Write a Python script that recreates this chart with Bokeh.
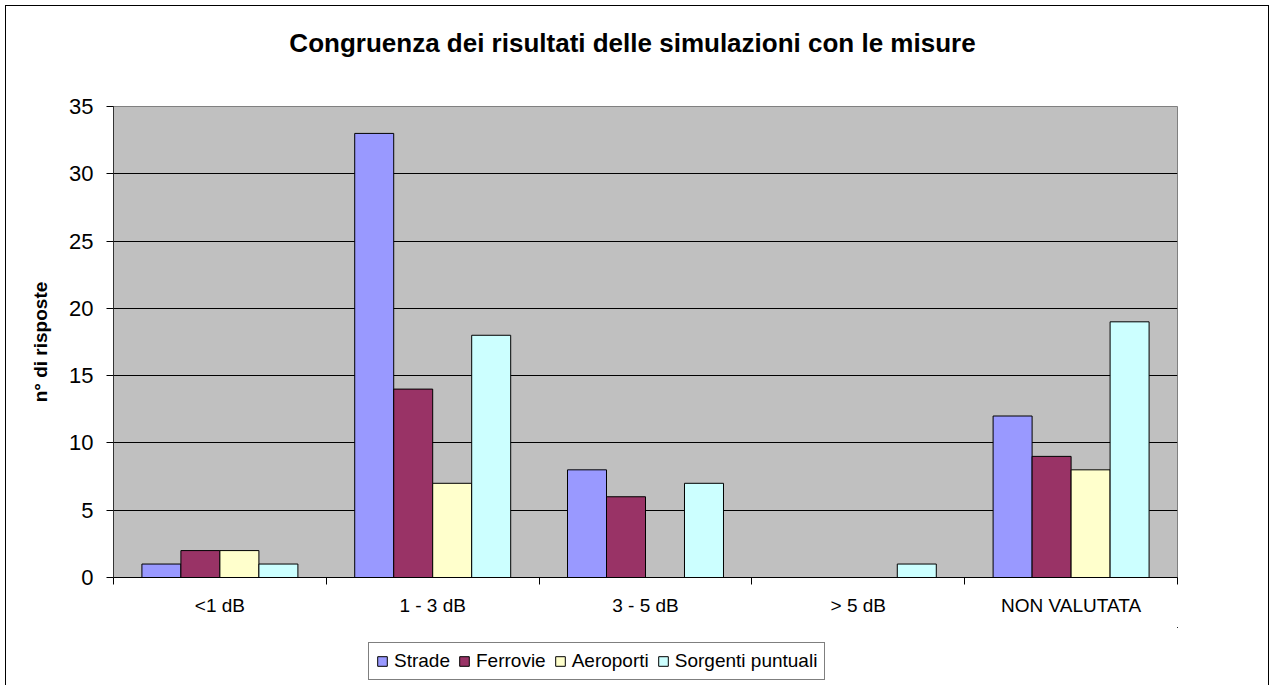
from bokeh.plotting import figure
from bokeh.models import (Range1d, FixedTicker, Legend, LegendItem,
                          ColumnDataSource)
from bokeh.layouts import column
from bokeh.core.properties import value
from bokeh.transform import dodge
from bokeh.embed import file_html
from bokeh.resources import INLINE

title_text = "Congruenza dei risultati delle simulazioni con le misure"
categories = ["<1 dB", "1 - 3 dB", "3 - 5 dB", "> 5 dB", "NON VALUTATA"]
series = ["Strade", "Ferrovie", "Aeroporti", "Sorgenti puntuali"]
strade = [1, 33, 8, 0, 12]
ferrovie = [2, 14, 6, 0, 9]
aeroporti = [2, 7, 0, 0, 8]
sorgenti = [1, 18, 7, 1, 19]
values = [strade, ferrovie, aeroporti, sorgenti]
colors = ["#9999FF", "#993366", "#FFFFCC", "#CCFFFF"]
y_ticks = [0, 5, 10, 15, 20, 25, 30, 35]

FONT = "Liberation Sans"
W = 1262
FW = 1064
n = len(categories)
centers = [i + 0.5 for i in range(n)]
bar_w = 0.733 / len(series)

# ---- title strip (frame is aligned with the chart frame by the column) ----
pt = figure(width=W, height=80, x_range=Range1d(0, FW), y_range=Range1d(0, 80),
            output_backend="svg", toolbar_location=None,
            x_axis_type=None, y_axis_type=None, min_border=0,
            outline_line_color=None, border_fill_color="white",
            background_fill_color="white")
pt.text(x=[519], y=[44], text=[title_text], text_align="center",
        text_baseline="middle", text_font=value(FONT), text_font_size="26px",
        text_font_style="bold", text_color="black")

# ---- main chart ----
p = figure(frame_width=FW, frame_height=471,
           x_range=Range1d(0, n), y_range=Range1d(0, 35),
           output_backend="svg", toolbar_location=None,
           min_border_left=107, min_border_right=91,
           min_border_top=20, min_border_bottom=50,
           background_fill_color="#C0C0C0", border_fill_color="white",
           outline_line_color="#808080")

sources = []
for j, (name, vals, col) in enumerate(zip(series, values, colors)):
    xs = [c for c, v in zip(centers, vals) if v > 0]
    tops = [v for v in vals if v > 0]
    src = ColumnDataSource(dict(x=xs, top=tops))
    sources.append(src)
    off = (j - (len(series) - 1) / 2) * bar_w
    p.vbar(x=dodge("x", off), top="top", bottom=0, width=bar_w, source=src,
           fill_color=col, line_color="black", line_width=1)

p.yaxis.ticker = FixedTicker(ticks=y_ticks)
p.yaxis.major_label_text_font = FONT
p.yaxis.major_label_text_font_size = "22px"
p.yaxis.major_label_text_color = "black"
p.yaxis.major_tick_out = 7
p.yaxis.major_tick_in = 0
p.yaxis.minor_tick_out = 0
p.yaxis.minor_tick_in = 0
p.yaxis.major_label_standoff = 13
p.yaxis.axis_line_color = "#333333"
p.yaxis.major_tick_line_color = "black"
p.yaxis.axis_label = "n° di risposte"
p.yaxis.axis_label_text_font = FONT
p.yaxis.axis_label_text_font_size = "19px"
p.yaxis.axis_label_text_font_style = "bold"
p.yaxis.axis_label_text_color = "black"
p.yaxis.axis_label_standoff = 15

p.xaxis.ticker = FixedTicker(ticks=centers, minor_ticks=list(range(n + 1)))
p.xaxis.major_label_overrides = {c: lab for c, lab in zip(centers, categories)}
p.xaxis.major_label_text_font = FONT
p.xaxis.major_label_text_font_size = "19px"
p.xaxis.major_label_text_color = "black"
p.xaxis.major_tick_out = 0
p.xaxis.major_tick_in = 0
p.xaxis.minor_tick_out = 7
p.xaxis.minor_tick_in = 0
p.xaxis.minor_tick_line_color = "black"
p.xaxis.major_label_standoff = 10
p.xaxis.axis_line_color = "black"

p.xgrid.visible = False
p.ygrid.ticker = FixedTicker(ticks=y_ticks[1:-1])
p.ygrid.grid_line_color = "black"
p.ygrid.grid_line_width = 1

# ---- legend strip (bars of the same sources, kept far outside its view) ----
pl = figure(width=W, height=58, x_range=Range1d(-100, -99),
            y_range=Range1d(-100, -99),
            output_backend="svg", toolbar_location=None,
            x_axis_type=None, y_axis_type=None, min_border=0,
            outline_line_color=None, border_fill_color="white",
            background_fill_color="white")
items = []
for name, col, src in zip(series, colors, sources):
    r = pl.vbar(x="x", top="top", bottom=0, width=bar_w, source=src,
                fill_color=col, line_color="black", line_width=1)
    items.append(LegendItem(label=name, renderers=[r]))
legend = Legend(items=items, orientation="horizontal", location=(255, 5),
                label_text_font=FONT, label_text_font_size="19px",
                label_text_color="black",
                glyph_width=12, glyph_height=12, label_standoff=6, spacing=8,
                padding=7, margin=0,
                border_line_color="black", border_line_width=1,
                background_fill_color="white", background_fill_alpha=1)
pl.add_layout(legend, "center")

layout = column(pt, p, pl, spacing=0, margin=(5, 0, 0, 5),
                styles={"border": "1px solid black", "border-bottom": "none"})

open("out.html", "w").write(file_html(layout, INLINE))
